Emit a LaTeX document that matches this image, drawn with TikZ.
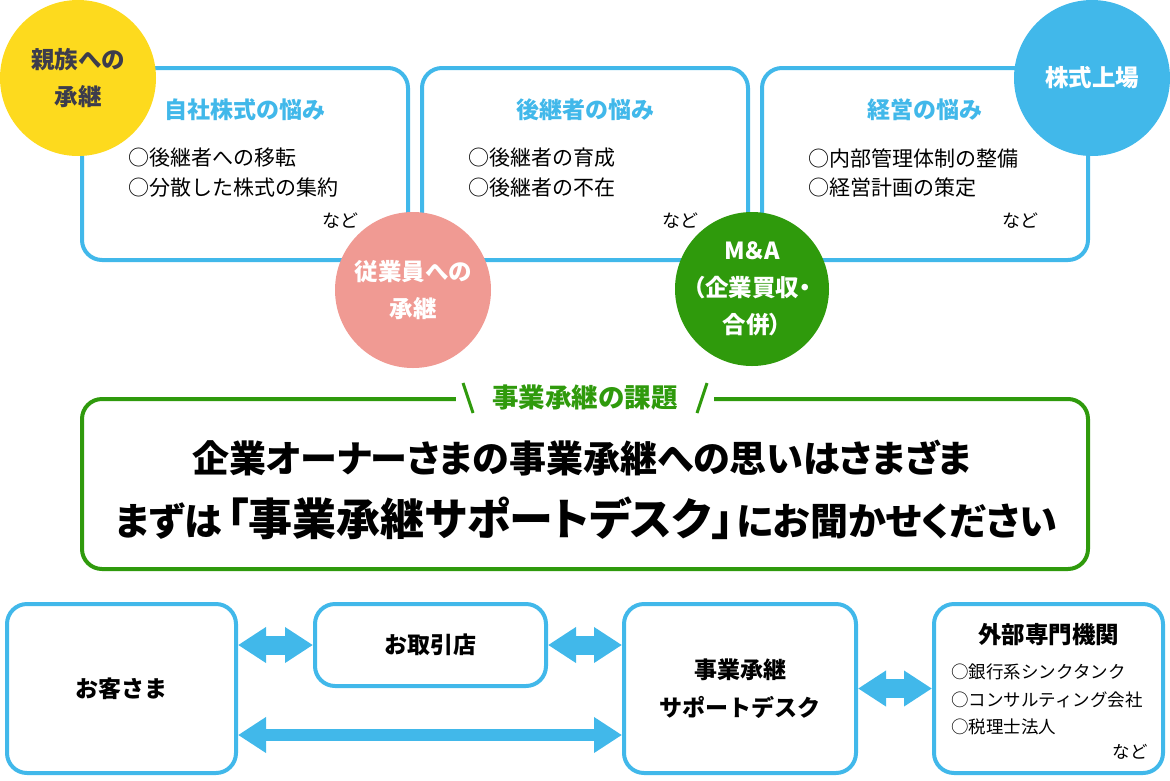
\documentclass[tikz,border=0pt]{standalone}
\usepackage{fontspec}
\setmainfont{Noto Sans CJK JP}
\newfontfamily\pfont{Noto Sans CJK JP}[RawFeature=+palt]
\usetikzlibrary{arrows.meta}
\definecolor{cblue}{HTML}{41B8EA}
\definecolor{cgreen}{HTML}{2F9A0C}
\definecolor{cyellow}{HTML}{FDDA1E}
\definecolor{csalmon}{HTML}{F09A93}
\definecolor{cdark}{HTML}{3C3C4C}
\newcommand{\fsz}[1]{\fontsize{#1}{#1}\selectfont}
\newcommand{\fszl}[2]{\fontsize{#1}{#2}\selectfont}
\tikzset{
  bbox/.style={draw=cblue, line width=4pt, rounded corners=20pt, fill=white, inner sep=0pt},
  gbox/.style={draw=cgreen, line width=4pt, rounded corners=20pt, inner sep=0pt},
  ttl/.style={text=cblue, font=\fsz{23}\bfseries, inner sep=0pt},
  itm/.style={text=black, font=\fsz{21}, inner sep=0pt, anchor=west},
  etc/.style={text=black, font=\fsz{18}, inner sep=0pt, anchor=east},
  circ/.style={circle, inner sep=0pt, minimum size=156pt, align=center, font=\pfont\fszl{23.5}{37}\bfseries},
  btxt/.style={text=black, font=\fsz{23}\bfseries, align=center, inner sep=0pt},
  eitm/.style={text=black, font=\fsz{17.5}, inner sep=0pt, anchor=west},
  sarr/.style={draw=cblue, line width=19pt, {Triangle[width=34pt,length=28pt]}-{Triangle[width=34pt,length=28pt]}},
  larr/.style={draw=cblue, line width=12pt, {Triangle[width=34pt,length=28pt]}-{Triangle[width=34pt,length=28pt]}},
}
\begin{document}
\begin{tikzpicture}[x=1pt,y=-1pt]
\useasboundingbox (0,0) rectangle (1170,780);
% top boxes
\node[bbox, minimum width=326pt, minimum height=192pt] (b1) at (245,164) {};
\node[bbox, minimum width=326pt, minimum height=192pt] (b2) at (585,164) {};
\node[bbox, minimum width=326pt, minimum height=192pt] (b3) at (925,164) {};
\node[ttl] (t1) at (245,110) {自社株式の悩み};
\node[itm] (i11) at (128,158) {○後継者への移転};
\node[itm] (i12) at (128,188) {○分散した株式の集約};
\node[etc] (e1) at (359,221) {など};
\node[ttl] (t2) at (585,110) {後継者の悩み};
\node[itm] (i21) at (468,158) {○後継者の育成};
\node[itm] (i22) at (468,188) {○後継者の不在};
\node[etc] (e2) at (699,221) {など};
\node[ttl] (t3) at (925,110) {経営の悩み};
\node[itm] (i31) at (808,158) {○内部管理体制の整備};
\node[itm] (i32) at (808,188) {○経営計画の策定};
\node[etc] (e3) at (1039,221) {など};
% circles
\node[circ, fill=cyellow, text=cdark] (c1) at (78,78) {親族への\\承継};
\node[circ, fill=csalmon, text=white] (c2) at (413,290) {従業員への\\承継};
\node[circ, fill=cgreen, text=white, minimum size=154pt] (c3) at (752,289) {M＆A\\（企業買収・\\合併）};
\node[circ, fill=cblue, text=white] (c4) at (1092,78) {株式上場};
% green box
\node[gbox, minimum width=1006pt, minimum height=170pt] (g) at (585,484) {};
\node[fill=white, inner xsep=36pt, inner ysep=4pt, text=cgreen, font=\fsz{26.5}\bfseries] (lab) at (585,398) {事業承継の課題};
\draw[cgreen, line width=3pt] (463,383) -- (473,413);
\draw[cgreen, line width=3pt] (707,383) -- (697,413);
\node[text=black, font=\pfont\fsz{37}\bfseries, inner sep=0pt] (m1) at (582,458) {企業オーナーさまの事業承継への思いはさまざま};
\node[text=black, font=\pfont\fsz{38}\bfseries, inner sep=0pt] (m2) at (586,518) {まずは\hspace{5pt}{\fsz{44}「事業承継サポートデスク」}\hspace{3pt}にお聞かせください};
% bottom boxes
\node[bbox, minimum width=229pt, minimum height=169pt] (kyaku) at (121.5,688.5) {};
\node[btxt] at (kyaku) {お客さま};
\node[bbox, minimum width=231pt, minimum height=82pt] (tori) at (430.5,645) {};
\node[btxt] at (tori) {お取引店};
\node[bbox, minimum width=232pt, minimum height=169pt] (desk) at (740,688.5) {};
\node[btxt, font=\fszl{23}{38}\bfseries] at (desk) {事業承継\\サポートデスク};
\node[bbox, minimum width=229pt, minimum height=169pt] (ext) at (1048.5,688.5) {};
\node[btxt, font=\fsz{23.5}\bfseries] (et) at (1048.5,635) {外部専門機関};
\node[eitm] (x1) at (951,672) {○銀行系シンクタンク};
\node[eitm] (x2) at (951,700) {○コンサルティング会社};
\node[eitm] (x3) at (951,727) {○税理士法人};
\node[etc, font=\fsz{17.5}] (xe) at (1148,752) {など};
% arrows
\coordinate (ly) at (0,735);
\draw[sarr] (kyaku.east |- tori.west) -- (tori.west);
\draw[sarr] (tori.east) -- (desk.west |- tori.east);
\draw[larr] (kyaku.east |- ly) -- (desk.west |- ly);
\draw[sarr] (desk.east) -- (ext.west);
\end{tikzpicture}
\end{document}
